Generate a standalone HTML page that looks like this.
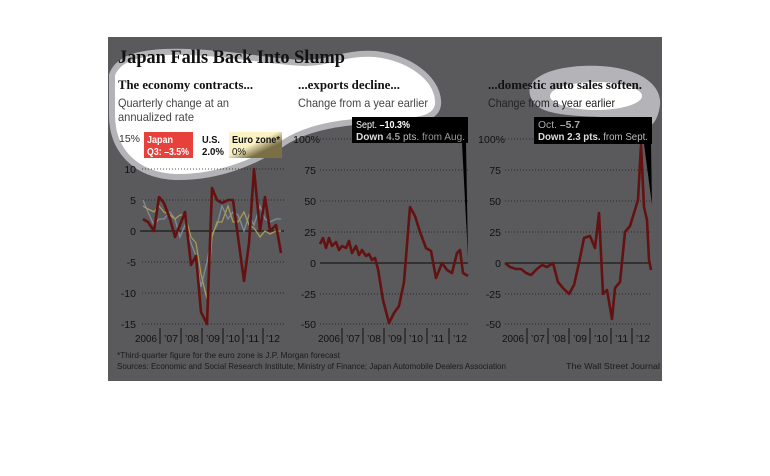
<!DOCTYPE html>
<html><head><meta charset="utf-8"><style>
html,body{margin:0;padding:0;background:#fff;}
svg{display:block;}
</style></head><body>
<svg width="770" height="476" viewBox="0 0 770 476" xmlns="http://www.w3.org/2000/svg" font-family="Liberation Sans, sans-serif">
<rect x="0" y="0" width="770" height="476" fill="#fff"/>
<rect x="108" y="37" width="554" height="344" fill="#5a5a5d"/>
<path d="M112,75 C118,58 140,50 190,52 C240,54 270,62 305,63 C330,63 345,52 375,54 C410,58 436,78 438,100 C440,118 420,122 390,121 C350,120 310,126 285,142 C260,160 220,178 175,177 C135,175 112,150 112,115 Z" fill="#fff" stroke="#b3b3b8" stroke-width="6"/>
<path d="M530,95 C525,75 560,64 600,66 C640,68 662,85 660,105 C658,122 650,128 645,128 C640,116 610,118 580,116 C550,114 534,110 530,95 Z" fill="#b3b3b8"/>
<ellipse cx="596" cy="96" rx="46" ry="14" fill="#fff"/>
<text x="118" y="63" font-family="Liberation Serif, serif" font-weight="bold" font-size="19" fill="#111" textLength="227" lengthAdjust="spacingAndGlyphs">Japan Falls Back Into Slump</text>
<g font-family="Liberation Serif, serif" font-weight="bold" font-size="12.5" fill="#111">
<text x="118" y="89" textLength="135" lengthAdjust="spacingAndGlyphs">The economy contracts...</text>
<text x="298" y="89" textLength="102" lengthAdjust="spacingAndGlyphs">...exports decline...</text>
<text x="488" y="89" textLength="154" lengthAdjust="spacingAndGlyphs">...domestic auto sales soften.</text>
</g>
<g font-size="12" fill="#444">
<text x="118" y="107" textLength="111" lengthAdjust="spacingAndGlyphs">Quarterly change at an</text>
<text x="118" y="121" textLength="76" lengthAdjust="spacingAndGlyphs">annualized rate</text>
<text x="298" y="107" textLength="130" lengthAdjust="spacingAndGlyphs">Change from a year earlier</text>
<text x="488" y="107" fill="#222" textLength="127" lengthAdjust="spacingAndGlyphs">Change from a year earlier</text>
</g>
<rect x="144" y="132" width="49" height="26" fill="#e8413b"/>
<text x="147" y="143" font-size="10.5" font-weight="bold" fill="#fff" textLength="26" lengthAdjust="spacingAndGlyphs">Japan</text>
<text x="147" y="155" font-size="10.5" font-weight="bold" fill="#fff" textLength="42" lengthAdjust="spacingAndGlyphs">Q3: –3.5%</text>
<text x="202" y="143" font-size="10.5" font-weight="bold" fill="#111" textLength="18" lengthAdjust="spacingAndGlyphs">U.S.</text>
<text x="202" y="155" font-size="10.5" font-weight="bold" fill="#111" textLength="22" lengthAdjust="spacingAndGlyphs">2.0%</text>
<defs><linearGradient id="eu" x1="0" y1="0" x2="1" y2="1"><stop offset="0.45" stop-color="#fbf3c4"/><stop offset="0.7" stop-color="#7a6f45"/></linearGradient></defs>
<rect x="229" y="132" width="53" height="26" fill="url(#eu)"/>
<text x="232" y="143" font-size="10.5" font-weight="bold" fill="#111" textLength="48" lengthAdjust="spacingAndGlyphs">Euro zone*</text>
<text x="232" y="155" font-size="10.5" fill="#111" textLength="14" lengthAdjust="spacingAndGlyphs">0%</text>
<g stroke="#1a1a1a" stroke-width="0.8" stroke-dasharray="1,2">
<line x1="142" y1="169" x2="284" y2="169"/><line x1="142" y1="200" x2="284" y2="200"/>
<line x1="142" y1="262" x2="284" y2="262"/><line x1="142" y1="293" x2="284" y2="293"/><line x1="142" y1="324" x2="284" y2="324"/>
<line x1="320" y1="139" x2="468" y2="139"/><line x1="320" y1="170" x2="468" y2="170"/><line x1="320" y1="201" x2="468" y2="201"/><line x1="320" y1="232" x2="468" y2="232"/><line x1="320" y1="294" x2="468" y2="294"/><line x1="320" y1="324" x2="468" y2="324"/>
<line x1="505" y1="139" x2="651" y2="139"/><line x1="505" y1="170" x2="651" y2="170"/><line x1="505" y1="201" x2="651" y2="201"/><line x1="505" y1="232" x2="651" y2="232"/><line x1="505" y1="294" x2="651" y2="294"/><line x1="505" y1="324" x2="651" y2="324"/>
</g>
<g stroke="#1a1a1a" stroke-width="1.2">
<line x1="140" y1="231" x2="284" y2="231"/><line x1="320" y1="263" x2="468" y2="263"/><line x1="505" y1="263" x2="651" y2="263"/>
</g>
<g font-size="10.5" fill="#111" text-anchor="end">
<text x="140" y="142" fill="#333">15%</text><text x="136" y="173">10</text><text x="136" y="204">5</text><text x="136" y="235">0</text><text x="136" y="266">-5</text><text x="136" y="297">-10</text><text x="136" y="328">-15</text>
<text x="320" y="143">100%</text><text x="316" y="174">75</text><text x="316" y="205">50</text><text x="316" y="236">25</text><text x="316" y="267">0</text><text x="316" y="298">-25</text><text x="316" y="328">-50</text>
<text x="505" y="143">100%</text><text x="501" y="174">75</text><text x="501" y="205">50</text><text x="501" y="236">25</text><text x="501" y="267">0</text><text x="501" y="298">-25</text><text x="501" y="328">-50</text>
</g>
<g font-size="10.5" fill="#111">
<text x="135" y="342" textLength="22" lengthAdjust="spacingAndGlyphs">2006</text><text x="164" y="342">’07</text><text x="185" y="342">’08</text><text x="206" y="342">’09</text><text x="226" y="342">’10</text><text x="246" y="342">’11</text><text x="266" y="342">’12</text>
<text x="318" y="342" textLength="22" lengthAdjust="spacingAndGlyphs">2006</text><text x="346" y="342">’07</text><text x="367" y="342">’08</text><text x="388" y="342">’09</text><text x="409" y="342">’10</text><text x="431" y="342">’11</text><text x="453" y="342">’12</text>
<text x="502" y="342" textLength="22" lengthAdjust="spacingAndGlyphs">2006</text><text x="531" y="342">’07</text><text x="552" y="342">’08</text><text x="573" y="342">’09</text><text x="594" y="342">’10</text><text x="615" y="342">’11</text><text x="636" y="342">’12</text>
</g>
<g stroke="#111" stroke-width="1">
<line x1="160" y1="328" x2="160" y2="344"/><line x1="181" y1="328" x2="181" y2="344"/><line x1="202" y1="328" x2="202" y2="344"/><line x1="223" y1="328" x2="223" y2="344"/><line x1="243" y1="328" x2="243" y2="344"/><line x1="263" y1="328" x2="263" y2="344"/>
<line x1="342" y1="328" x2="342" y2="344"/><line x1="363" y1="328" x2="363" y2="344"/><line x1="384" y1="328" x2="384" y2="344"/><line x1="405" y1="328" x2="405" y2="344"/><line x1="427" y1="328" x2="427" y2="344"/><line x1="449" y1="328" x2="449" y2="344"/>
<line x1="527" y1="328" x2="527" y2="344"/><line x1="548" y1="328" x2="548" y2="344"/><line x1="569" y1="328" x2="569" y2="344"/><line x1="590" y1="328" x2="590" y2="344"/><line x1="611" y1="328" x2="611" y2="344"/><line x1="632" y1="328" x2="632" y2="344"/>
</g>
<polyline fill="none" stroke="#7f8c96" stroke-width="1.3" points="143,200 148,212 154,225 159,219 164,219 170,212 175,219 180,237 185,225 191,243 196,256 201,287 207,262 212,234 217,225 222,206 228,219 233,212 238,215 244,231 249,215 254,225 260,206 265,219 270,222 276,219 281,219"/>
<polyline fill="none" stroke="#a89a55" stroke-width="1.3" points="143,206 148,209 154,212 159,206 164,212 170,215 175,219 180,215 185,215 191,237 196,243 201,274 207,299 212,237 217,222 222,222 228,206 233,222 238,222 244,212 249,225 254,228 260,237 265,231 270,234 276,231 281,231"/>
<polyline fill="none" stroke="#641111" stroke-width="2.6" stroke-linejoin="round" points="143,219 148,222 154,231 159,197 164,203 170,219 175,237 180,225 185,212 191,265 196,256 201,312 207,324 212,188 217,200 222,203 228,200 233,200 238,237 244,281 249,243 254,169 260,231 265,197 270,231 276,225 281,253"/>
<polyline fill="none" stroke="#641111" stroke-width="2.6" stroke-linejoin="round" points="320,244 323,238 326,248 329,238 332,246 336,242 339,250 342,246 346,248 349,241 352,253 356,246 359,255 362,250 366,256 369,254 372,260 375,258 378,269 383,300 389,323 394,313 399,306 404,282 410,207 415,216 420,232 426,248 431,251 436,278 442,263 447,270 452,273 457,253 460,250 463,273 468,276"/>
<polyline fill="none" stroke="#641111" stroke-width="2.6" stroke-linejoin="round" points="505,263 510,267 516,269 521,269 526,273 531,275 537,269 542,265 547,267 553,263 558,282 563,288 569,294 574,285 579,263 584,238 590,236 595,248 599,213 603,294 607,290 612,319 615,288 620,282 625,232 630,226 634,213 638,200 641,145 644,207 647,220 649,260 651,270"/>
<path d="M352,117 H468 V143 H466 L468,258 L462,143 H352 Z" fill="#000"/>
<text x="356" y="128" font-size="10.5" fill="#fff" textLength="54" lengthAdjust="spacingAndGlyphs">Sept. <tspan font-weight="bold">–10.3%</tspan></text>
<text x="356" y="140" font-size="10.5" fill="#999" textLength="109" lengthAdjust="spacingAndGlyphs"><tspan font-weight="bold" fill="#ddd">Down</tspan> <tspan font-weight="bold">4.5</tspan> <tspan fill="#bbb">pts.</tspan> from Aug.</text>
<path d="M534,117 H652 V144 H651 L652,205 L644,144 H534 Z" fill="#000"/>
<text x="538" y="128" font-size="10.5" fill="#aaa" textLength="42" lengthAdjust="spacingAndGlyphs">Oct. <tspan font-weight="bold">–5.7</tspan></text>
<text x="538" y="140" font-size="10.5" fill="#bbb" textLength="110" lengthAdjust="spacingAndGlyphs"><tspan font-weight="bold" fill="#ddd">Down 2.3 pts.</tspan> from Sept.</text>
<text x="117" y="358" font-size="8.5" fill="#1a1a1a" textLength="223" lengthAdjust="spacingAndGlyphs">*Third-quarter figure for the euro zone is J.P. Morgan forecast</text>
<text x="117" y="369" font-size="8.5" fill="#1a1a1a" textLength="389" lengthAdjust="spacingAndGlyphs">Sources: Economic and Social Research Institute; Ministry of Finance; Japan Automobile Dealers Association</text>
<text x="566" y="369" font-size="8.5" fill="#1a1a1a" textLength="94" lengthAdjust="spacingAndGlyphs">The Wall Street Journal</text>
</svg>
</body></html>
